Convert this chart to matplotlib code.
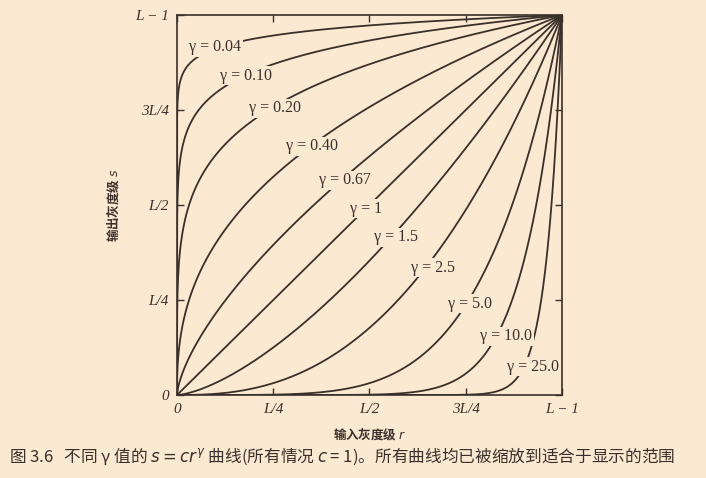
import numpy as np
import matplotlib.pyplot as plt

# gamma values and where their labels sit (fraction of full scale)
gammas = [0.04, 0.10, 0.20, 0.40, 0.67, 1, 1.5, 2.5, 5.0, 10.0, 25.0]
gamma_labels = ["0.04", "0.10", "0.20", "0.40", "0.67", "1", "1.5", "2.5", "5.0", "10.0", "25.0"]
label_x = [0.10, 0.18, 0.255, 0.35, 0.435, 0.49, 0.57, 0.665, 0.76, 0.855, 0.925]
label_y = [0.915, 0.84, 0.755, 0.655, 0.565, 0.49, 0.415, 0.335, 0.24, 0.155, 0.075]
tick_pos = [0, 0.25, 0.5, 0.75, 1.0]
x_tick_labels = ["0", "L/4", "L/2", "3L/4", "L − 1"]
y_tick_labels = ["0", "L/4", "L/2", "3L/4", "L − 1"]

bg = "#fce9d2"
ink = "#3a302a"
serif = "Liberation Serif"
cjk = "Noto Sans CJK SC"

fig = plt.figure(figsize=(7.06, 4.78), dpi=100, facecolor=bg)
ax = fig.add_axes([0.2507, 0.1736, 0.5453, 0.795], facecolor=bg)

r = np.linspace(0, 1, 2000)
for g in gammas:
    ax.plot(r, r ** g, color=ink, lw=1.3, solid_capstyle="butt")

for lx, ly, lab in zip(label_x, label_y, gamma_labels):
    ax.text(lx, ly, "γ = " + lab, fontfamily=serif, fontsize=11.5, color=ink,
            ha="center", va="center",
            bbox=dict(boxstyle="square,pad=0.1", fc=bg, ec="none"))

ax.set_xlim(0, 1)
ax.set_ylim(0, 1)
ax.set_xticks(tick_pos)
ax.set_yticks(tick_pos)
ax.set_xticklabels(x_tick_labels, fontfamily=serif, fontstyle="italic", fontsize=11, color=ink)
ax.set_yticklabels(y_tick_labels, fontfamily=serif, fontstyle="italic", fontsize=11, color=ink)
ax.tick_params(direction="in", length=5, width=1, color=ink, top=True, right=True, pad=6)
for sp in ax.spines.values():
    sp.set_color(ink)
    sp.set_linewidth(1.2)

ax.set_xlabel("输入灰度级 $r$", fontfamily=cjk, fontweight="bold", fontsize=9, color=ink, labelpad=6)
ax.set_ylabel("输出灰度级 $s$", fontfamily=cjk, fontweight="bold", fontsize=9, color=ink, labelpad=10)

fig.text(0.013, 0.045, "图 3.6   不同 γ 值的 $s = cr^{\\gamma}$ 曲线(所有情况 $c$ = 1)。所有曲线均已被缩放到适合于显示的范围",
         fontfamily=cjk, fontsize=12, color=ink, ha="left", va="center")

fig.savefig("out.png", dpi=100, facecolor=bg)
